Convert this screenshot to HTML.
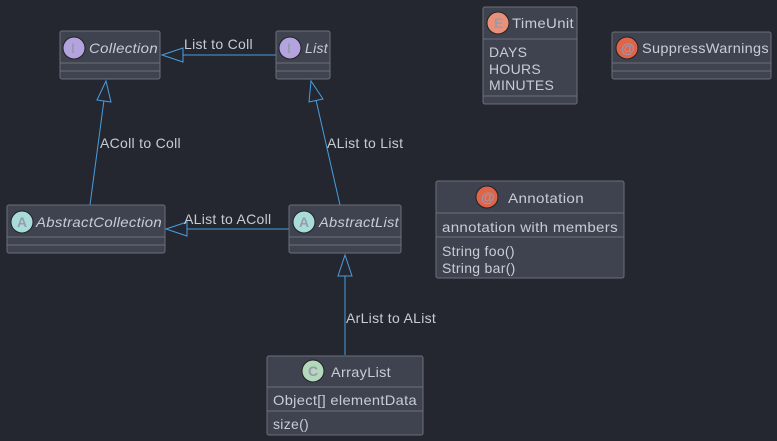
<!DOCTYPE html>
<html><head><meta charset="utf-8"><style>
html,body{margin:0;padding:0;background:#24272f;}
svg{display:block}
text{font-family:"Liberation Sans",sans-serif;font-size:14px;fill:#c9ccd3;letter-spacing:0.3px}
.b{fill:#3f4350;stroke:#6b6f79;stroke-width:1}
.s{stroke:#6b6f79;stroke-width:1}
.e{stroke:#4a9de0;stroke-width:1;fill:none}
.t{fill:#24272f;stroke:#4a9de0;stroke-width:1}
.ci{fill:#9a9aae;font-size:14px;font-weight:bold;letter-spacing:0}
</style></head><body>
<svg width="777" height="441" viewBox="0 0 777 441">
<line class="e" x1="276" y1="55" x2="183" y2="55"/>
<polygon class="t" points="162,55 183,48 183,62"/>
<text x="184" y="49">List to Coll</text>

<line class="e" x1="90" y1="205" x2="104" y2="100"/>
<polygon class="t" points="106,81 97,100 111,102"/>
<text x="100" y="148">AColl to Coll</text>

<line class="e" x1="340" y1="205" x2="316" y2="100"/>
<polygon class="t" points="311,81 309,102 323,99"/>
<text x="327" y="148">AList to List</text>

<line class="e" x1="289" y1="229" x2="187" y2="229"/>
<polygon class="t" points="166,229 187,222 187,236"/>
<text x="184" y="224">AList to AColl</text>

<line class="e" x1="345" y1="355" x2="345" y2="276"/>
<polygon class="t" points="345,255 338,276 352,276"/>
<text x="346" y="323">ArList to AList</text>

<rect class="b" x="60" y="31" width="100" height="48" rx="2"/>
<line class="s" x1="60" y1="63" x2="160" y2="63"/><line class="s" x1="60" y1="71" x2="160" y2="71"/>
<circle cx="74" cy="48" r="11" fill="#b3a4e0" stroke="#222" stroke-width="1"/><text class="ci" x="71" y="53">I</text>
<text x="89" y="53" font-style="italic" textLength="69" lengthAdjust="spacingAndGlyphs">Collection</text>

<rect class="b" x="276" y="31" width="54" height="48" rx="2"/>
<line class="s" x1="276" y1="63" x2="330" y2="63"/><line class="s" x1="276" y1="71" x2="330" y2="71"/>
<circle cx="290" cy="48" r="11" fill="#b3a4e0" stroke="#222"/><text class="ci" x="287" y="53">I</text>
<text x="305" y="53" font-style="italic">List</text>

<rect class="b" x="7" y="205" width="158" height="48" rx="2"/>
<line class="s" x1="7" y1="237" x2="165" y2="237"/><line class="s" x1="7" y1="245" x2="165" y2="245"/>
<circle cx="22" cy="222" r="11" fill="#a8dcd9" stroke="#222"/><text class="ci" x="17" y="227">A</text>
<text x="36" y="227" font-style="italic" textLength="126" lengthAdjust="spacingAndGlyphs">AbstractCollection</text>

<rect class="b" x="289" y="205" width="112" height="48" rx="2"/>
<line class="s" x1="289" y1="237" x2="401" y2="237"/><line class="s" x1="289" y1="245" x2="401" y2="245"/>
<circle cx="304" cy="222" r="11" fill="#a8dcd9" stroke="#222"/><text class="ci" x="299" y="227">A</text>
<text x="319" y="227" font-style="italic" textLength="80" lengthAdjust="spacingAndGlyphs">AbstractList</text>

<rect class="b" x="267" y="356" width="156" height="79" rx="2"/>
<line class="s" x1="267" y1="387" x2="423" y2="387"/><line class="s" x1="267" y1="411" x2="423" y2="411"/>
<circle cx="313" cy="371" r="11" fill="#b4d8bc" stroke="#222"/><text class="ci" x="308" y="376">C</text>
<text x="331" y="377" textLength="60" lengthAdjust="spacingAndGlyphs">ArrayList</text>
<text x="273" y="405" textLength="144" lengthAdjust="spacingAndGlyphs">Object[] elementData</text>
<text x="273" y="429">size()</text>

<rect class="b" x="483" y="7" width="94" height="97" rx="2"/>
<line class="s" x1="483" y1="39" x2="577" y2="39"/><line class="s" x1="483" y1="96" x2="577" y2="96"/>
<circle cx="498" cy="23" r="11" fill="#e8907a" stroke="#222"/><text class="ci" x="494" y="28">E</text>
<text x="512" y="28" textLength="62" lengthAdjust="spacingAndGlyphs">TimeUnit</text>
<text x="489" y="57">DAYS</text>
<text x="489" y="74">HOURS</text>
<text x="489" y="90">MINUTES</text>

<rect class="b" x="612" y="32" width="159" height="47" rx="2"/>
<line class="s" x1="612" y1="63" x2="771" y2="63"/><line class="s" x1="612" y1="71" x2="771" y2="71"/>
<circle cx="627" cy="48" r="11" fill="#e0644a" stroke="#222"/><text class="ci" x="621" y="53">@</text>
<text x="642" y="53" textLength="127" lengthAdjust="spacingAndGlyphs">SuppressWarnings</text>

<rect class="b" x="436" y="181" width="188" height="97" rx="2"/>
<line class="s" x1="436" y1="213" x2="624" y2="213"/><line class="s" x1="436" y1="237" x2="624" y2="237"/>
<circle cx="487" cy="197" r="11" fill="#e0644a" stroke="#222"/><text class="ci" x="481" y="202">@</text>
<text x="508" y="203" textLength="76" lengthAdjust="spacingAndGlyphs">Annotation</text>
<text x="442" y="232" textLength="176" lengthAdjust="spacingAndGlyphs">annotation with members</text>
<text x="442" y="256">String foo()</text>
<text x="442" y="273">String bar()</text>
</svg>
</body></html>
